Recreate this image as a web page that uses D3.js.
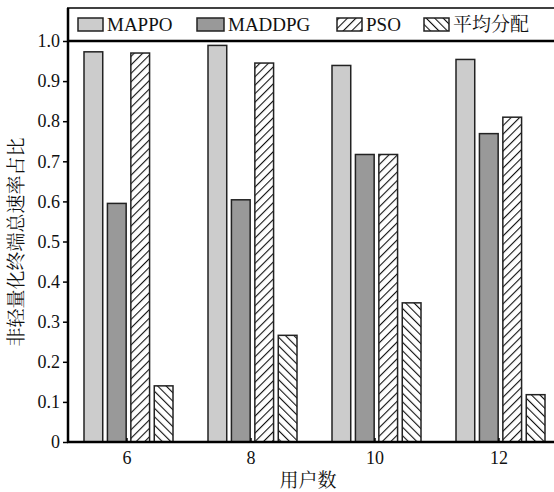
<!DOCTYPE html>
<html><head><meta charset="utf-8">
<script src="https://cdn.jsdelivr.net/npm/d3@7"></script>
<style>body{margin:0;background:#fff}svg{display:block}</style>
</head><body><svg id="c" width="554" height="492"></svg>
<script>
const categories = ["6", "8", "10", "12"];
const seriesNames = ["MAPPO", "MADDPG", "PSO", "平均分配"];
const mappo  = [0.973, 0.989, 0.939, 0.954];
const maddpg = [0.595, 0.604, 0.717, 0.769];
const pso    = [0.970, 0.945, 0.717, 0.810];
const avg    = [0.140, 0.266, 0.347, 0.118];
const yTicks = [0, 0.1, 0.2, 0.3, 0.4, 0.5, 0.6, 0.7, 0.8, 0.9, 1.0];
const yTickLabels = ["0", "0.1", "0.2", "0.3", "0.4", "0.5", "0.6", "0.7", "0.8", "0.9", "1.0"];
const yTitle = "非轻量化终端总速率占比";
const xTitle = "用户数";

const series = [mappo, maddpg, pso, avg];
const fills = ["#cccccc", "#999999", "url(#hatchF)", "url(#hatchB)"];
const font = "'Liberation Serif', 'Noto Serif CJK SC', 'Noto Sans CJK SC', serif";
const cjk = "'Noto Serif CJK SC', 'Noto Sans CJK SC', sans-serif";

const svg = d3.select("#c");
const defs = svg.append("defs");
function hatch(id, dir) {
  const p = defs.append("pattern").attr("id", id).attr("patternUnits", "userSpaceOnUse")
    .attr("width", 6).attr("height", 6)
    .attr("patternTransform", `rotate(${dir * 45})`);
  p.append("rect").attr("width", 6).attr("height", 6).attr("fill", "#fff");
  p.append("line").attr("x1", 0).attr("y1", 0).attr("x2", 0).attr("y2", 6)
    .attr("stroke", "#111").attr("stroke-width", 2.2);
}
hatch("hatchF", 1);
hatch("hatchB", -1);

const axisX = 68, yBottom = 442, yTop = 41, frameTop = 8, rightEdge = 560;
const x = d3.scaleBand().domain(categories).range([65, 561]).paddingInner(0).paddingOuter(0);
const y = d3.scaleLinear().domain([0, 1]).range([yBottom, yTop]);
const inner = d3.scaleBand().domain(d3.range(4)).range([-43, 46]).paddingInner(0.2);

// bars
categories.forEach((c, i) => {
  const cx = x(c) + x.bandwidth() / 2;
  series.forEach((s, k) => {
    svg.append("rect")
      .attr("x", cx + inner(k)).attr("width", inner.bandwidth())
      .attr("y", y(s[i])).attr("height", yBottom - y(s[i]))
      .attr("fill", fills[k]).attr("stroke", "#222").attr("stroke-width", 1.5);
  });
});

// y axis
const yAxis = d3.axisLeft(y).tickValues(yTicks).tickFormat((d, i) => yTickLabels[i]).tickSize(5).tickPadding(3);
const ga = svg.append("g").attr("transform", `translate(${axisX},0)`).call(yAxis)
  .attr("font-family", null).attr("font-size", null);
ga.select(".domain").remove();
ga.selectAll("line").attr("stroke", "#000").attr("stroke-width", 1.5);
ga.selectAll("text").style("font-family", font).style("font-size", "18px").attr("fill", "#111");

// x axis
const xAxis = d3.axisBottom(x).tickSize(0).tickPadding(9);
const gx = svg.append("g").attr("transform", `translate(0,${yBottom})`).call(xAxis)
  .attr("font-family", null).attr("font-size", null);
gx.select(".domain").remove();
gx.selectAll("text").style("font-family", font).style("font-size", "18px").attr("fill", "#111");
categories.forEach(c => {
  const cx = x(c) + x.bandwidth() / 2;
  svg.append("line").attr("x1", cx).attr("x2", cx).attr("y1", yBottom).attr("y2", yBottom - 4)
    .attr("stroke", "#000").attr("stroke-width", 1.5);
});

// frame lines
svg.append("line").attr("x1", axisX).attr("x2", axisX).attr("y1", frameTop).attr("y2", yBottom + 1)
  .attr("stroke", "#000").attr("stroke-width", 2.5);
svg.append("line").attr("x1", axisX - 1).attr("x2", rightEdge).attr("y1", yBottom).attr("y2", yBottom)
  .attr("stroke", "#000").attr("stroke-width", 2.5);
svg.append("line").attr("x1", axisX - 1).attr("x2", rightEdge).attr("y1", yTop).attr("y2", yTop)
  .attr("stroke", "#000").attr("stroke-width", 2.5);
svg.append("line").attr("x1", axisX - 1).attr("x2", rightEdge).attr("y1", frameTop).attr("y2", frameTop)
  .attr("stroke", "#000").attr("stroke-width", 1.5);

// legend
const legX = [78, 197, 337, 424];
const legW = [25, 27, 25, 25];
seriesNames.forEach((n, k) => {
  svg.append("rect").attr("x", legX[k]).attr("y", 18).attr("width", legW[k]).attr("height", 13)
    .attr("fill", fills[k]).attr("stroke", "#222").attr("stroke-width", 1.5);
  svg.append("text").attr("x", legX[k] + legW[k] + 4).attr("y", 31)
    .style("font-family", k === 3 ? cjk : font).style("font-size", "19px").attr("fill", "#111").text(n);
});

// titles
svg.append("text").attr("transform", `translate(23,242) rotate(-90)`).attr("text-anchor", "middle")
  .style("font-family", cjk).style("font-size", "19px").attr("fill", "#111").text(yTitle);
svg.append("text").attr("x", 308).attr("y", 487).attr("text-anchor", "middle")
  .style("font-family", cjk).style("font-size", "19px").attr("fill", "#111").text(xTitle);
</script></body></html>
